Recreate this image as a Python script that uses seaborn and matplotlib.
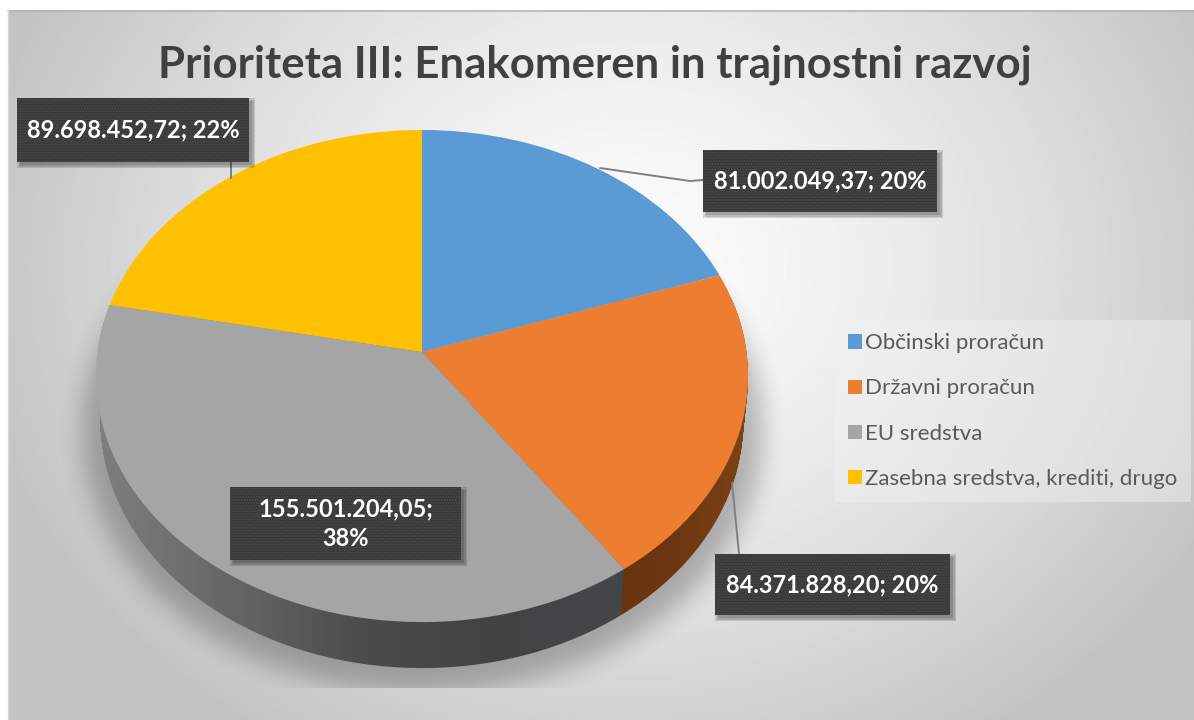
import numpy as np
import seaborn as sns
import matplotlib
matplotlib.use("Agg")
import matplotlib.pyplot as plt
from matplotlib.colors import LinearSegmentedColormap
from matplotlib.patches import Patch, Rectangle
from matplotlib.path import Path
from matplotlib.transforms import Transform

title = "Prioriteta III: Enakomeren in trajnostni razvoj"
categories = ["Občinski proračun", "Državni proračun", "EU sredstva", "Zasebna sredstva, krediti, drugo"]
values = [81002049.37, 84371828.20, 155501204.05, 89698452.72]
value_labels = ["81.002.049,37; 20%", "84.371.828,20; 20%", "155.501.204,05;\n38%", "89.698.452,72; 22%"]
colors = ["#5B9BD5", "#ED7D31", "#A5A5A5", "#FFC000"]

# label boxes in pixels: x0, y0, x1, y1
boxes = [(703, 150, 937, 212), (715, 554, 950, 615), (230, 487, 461, 560), (17, 98, 249, 162)]
leaders = [([600, 690, 703], [168, 181, 180]), ([732, 739], [483, 554]), ([231, 231], [162, 178])]

W, H = 1194, 720
sns.set_theme(style="white")
plt.rcParams["font.family"] = ["Lato", "DejaVu Sans"]
plt.rcParams["hatch.linewidth"] = 0.9
palette = sns.color_palette(colors)


class Tilt(Transform):
    # unit circle seen in perspective, so the apex sits above the ellipse centre
    input_dims = 2
    output_dims = 2

    def __init__(self, cx, cy, bx, ay, c):
        super().__init__()
        self.cx, self.cy, self.bx, self.ay, self.c = cx, cy, bx, ay, c

    def transform_non_affine(self, xy):
        xy = np.asarray(xy)
        w = 1 + self.c * xy[:, 1]
        return np.column_stack([self.cx + self.bx * xy[:, 0] / w, self.cy - self.ay * xy[:, 1] / w])


fig = plt.figure(figsize=(W / 100, H / 100), dpi=100, facecolor="white")
ax = fig.add_axes([0, 0, 1, 1])

top = Tilt(422, 352, 324.5, 243.7, 0.0976)
wedges, _ = ax.pie(values, colors=palette, startangle=90, counterclock=False, radius=1)
for w in wedges:
    w.set_transform(top + ax.transData)
    w.set_zorder(4)
    w.set_linewidth(0)

ax.set_aspect("auto")
ax.set_xlim(0, W)
ax.set_ylim(H, 0)
ax.axis("off")

# chart background
xx, yy = np.meshgrid(np.arange(W), np.arange(H))
t = np.clip(np.sqrt(((xx - 620) / 660.0) ** 2 + ((yy - 260) / 560.0) ** 2), 0, 1)
ax.imshow(252 - 56 * t ** 1.4, extent=(8, W, H, 10), cmap="gray", vmin=0, vmax=255,
          aspect="auto", zorder=0, interpolation="bilinear")
ax.plot([8, W], [10.5, 10.5], color="#b5b5b5", lw=1.2, zorder=1)
ax.plot([8, 8], [10, H], color="#d8d8d8", lw=1, zorder=1)

# soft shadow under the pie
mask = (((xx - 422) / 340.0) ** 2 + ((yy - 430) / 262.0) ** 2 < 1).astype(float)
kernel = np.ones(29) / 29
for _ in range(2):
    mask = np.apply_along_axis(lambda r: np.convolve(r, kernel, "same"), 1, mask)
    mask = np.apply_along_axis(lambda r: np.convolve(r, kernel, "same"), 0, mask)
mask[688:, :] = 0
rgba = np.zeros((H, W, 4))
rgba[..., 3] = mask * 0.26
ax.imshow(rgba, extent=(0, W, H, 0), aspect="auto", zorder=2)

# side wall: stack of lower copies of the slices, used as clip for a gradient
wall_maps = {
    1: ["#673410", "#6d3710", "#7c4315"],
    2: ["#7e7e7e", "#666666", "#4c4c4c", "#424242", "#44474a"],
}
depth = 46
for i, stops in wall_maps.items():
    parts = []
    for d in range(0, depth + 1, 2):
        low = Tilt(422, 352 + d, 324.5 * (1 - 0.015 * d / depth), 243.7, 0.0976)
        parts.append(low.transform_path(wedges[i].get_path()))
    cmap = LinearSegmentedColormap.from_list("wall", stops)
    ramp = np.linspace(0, 1, 256).reshape(1, -1)
    x0, x1 = (610, 750) if i == 1 else (100, 625)
    im = ax.imshow(ramp, extent=(x0, x1, H, 300), cmap=cmap, aspect="auto", zorder=3)
    im.set_clip_path(Path.make_compound_path(*parts), transform=ax.transData)
ax.set_xlim(0, W)
ax.set_ylim(H, 0)

for xs, ys in leaders:
    ax.plot(xs, ys, color="#7f7f7f", lw=1.4, zorder=5)

for (x0, y0, x1, y1), txt in zip(boxes, value_labels):
    # blurred looking drop shadow from a few see-through rectangles
    for grow in (0, 1.5, 3):
        ax.add_patch(Rectangle((x0 + 3 - grow, y0 + 3 - grow), x1 - x0 + 2 * grow, y1 - y0 + 2 * grow,
                               facecolor="black", alpha=0.13, linewidth=0, zorder=5.5))
    ax.add_patch(Rectangle((x0, y0), x1 - x0, y1 - y0, facecolor="#393939", edgecolor="#4b4b4b",
                           hatch="......", linewidth=0, zorder=6))
    ax.text((x0 + x1) / 2, (y0 + y1) / 2, txt, color="white", fontsize=17, fontweight="bold",
            ha="center", va="center", linespacing=1.35, zorder=7)

ax.text(595, 65, title, color="#404040", fontsize=31.5, fontweight="bold", ha="center", va="center", zorder=7)

handles = [Patch(facecolor=c, linewidth=0) for c in palette]
leg = ax.legend(handles, categories, loc="upper left", bbox_to_anchor=(835 / W, 1 - 320 / H),
                bbox_transform=ax.transAxes, frameon=True, facecolor="#f2f2f2", framealpha=0.45,
                edgecolor="none", fancybox=False, fontsize=16, labelcolor="#595959",
                handlelength=0.6, handleheight=0.6, handletextpad=0.15, labelspacing=1.13,
                borderpad=0.6, borderaxespad=0)
leg.set_zorder(5)

fig.savefig("out.png", dpi=100)
